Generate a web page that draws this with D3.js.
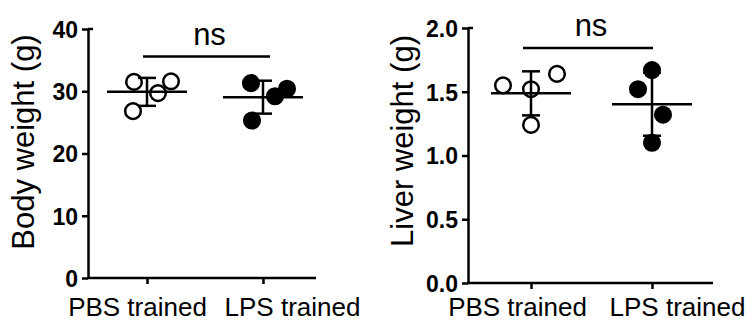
<!DOCTYPE html>
<html>
<head>
<meta charset="utf-8">
<script src="https://cdn.jsdelivr.net/npm/d3@7"></script>
<style>
  body { margin: 0; background: #fff; }
  svg { display: block; }
  text { font-family: "Liberation Sans", Arial, Helvetica, sans-serif; fill: #000; }
</style>
</head>
<body>
<div id="chart"></div>
<script>
// groups on x
var groups = ["PBS trained", "LPS trained"];

// body weight (g), one value per mouse
var bodyPBS = [31.5, 31.6, 29.7, 26.8];
var bodyLPS = [31.3, 29.2, 30.4, 25.3];
var bodyTicks = [0, 10, 20, 30, 40];

// liver weight (g)
var liverPBS = [1.55, 1.64, 1.52, 1.24];
var liverLPS = [1.67, 1.52, 1.32, 1.10];
var liverTicks = [0, 0.5, 1.0, 1.5, 2.0];

// horizontal scatter of the dots (px), same order as values
var bodyJitter = [[-13, 24, 11, -14], [-12, 12, 24, -11]];
var liverJitter = [[-28, 26, 0, 0], [0, -14, 11, 0]];

var svg = d3.select("#chart").append("svg")
  .attr("width", 756)
  .attr("height", 324);

function drawPanel(p) {
  var g = svg.append("g");

  var x = d3.scalePoint().domain(groups).range(p.xr);
  var y = d3.scaleLinear().domain([0, p.ymax]).range(p.yr);

  /* y axis */
  var yAxis = g.append("g")
    .attr("transform", "translate(" + p.ax + ",0)")
    .call(d3.axisLeft(y).tickValues(p.ticks).tickSize(6).tickSizeOuter(0)
      .tickPadding(4).tickFormat(d3.format(p.fmt)));
  yAxis.select(".domain").attr("stroke-width", 2.5);
  yAxis.selectAll(".tick line").attr("stroke-width", 2.5);
  yAxis.selectAll(".tick text")
    .attr("font-size", "23px")
    .attr("font-weight", "bold")
    .attr("dy", "0.36em");
  // small stub to the right at the top of the axis (the "T")
  g.append("line")
    .attr("x1", p.ax).attr("x2", p.ax + 5)
    .attr("y1", y(p.ymax)).attr("y2", y(p.ymax))
    .attr("stroke", "#000").attr("stroke-width", 2.5);

  /* x axis: ticks from the scale, line drawn to the panel end */
  var xAxis = g.append("g")
    .attr("transform", "translate(0," + y(0) + ")")
    .call(d3.axisBottom(x).tickSize(6).tickPadding(p.labelPad));
  xAxis.select(".domain").remove();
  xAxis.selectAll(".tick line").attr("stroke-width", 2.5);
  xAxis.selectAll(".tick text")
    .attr("font-size", "26px")
    .attr("dx", function(d, i) { return p.labelShift[i]; });
  g.append("line")
    .attr("x1", p.ax).attr("x2", p.xend)
    .attr("y1", y(0)).attr("y2", y(0))
    .attr("stroke", "#000").attr("stroke-width", 2.5);

  /* y title */
  g.append("text")
    .attr("transform", "translate(" + p.titleX + "," + p.titleY + ") rotate(-90)")
    .attr("text-anchor", "middle")
    .attr("font-size", "31px")
    .text(p.title);

  /* dots, then mean +/- SD on top */
  p.series.forEach(function(vals, k) {
    var cx = x(groups[k]);
    var filled = k == 1;
    g.append("g").selectAll("circle")
      .data(vals)
      .enter().append("circle")
      .attr("cx", function(d, i) { return cx + p.jitter[k][i]; })
      .attr("cy", function(d) { return y(d); })
      .attr("r", 7.8)
      .attr("fill", filled ? "#000" : "#fff")
      .attr("stroke", "#000")
      .attr("stroke-width", 2.5);

    var m = d3.mean(vals), sd = d3.deviation(vals);
    var bars = g.append("g").attr("stroke", "#000").attr("stroke-width", 2.5);
    bars.append("line")
      .attr("x1", cx - 40).attr("x2", cx + 40)
      .attr("y1", y(m)).attr("y2", y(m));
    bars.append("line")
      .attr("x1", cx).attr("x2", cx)
      .attr("y1", y(m + sd)).attr("y2", y(m - sd));
    [m + sd, m - sd].forEach(function(v) {
      bars.append("line")
        .attr("x1", cx - 9).attr("x2", cx + 9)
        .attr("y1", y(v)).attr("y2", y(v));
    });
  });

  /* significance bar */
  g.append("line")
    .attr("x1", x(groups[0]) + p.sigX[0]).attr("x2", x(groups[1]) + p.sigX[1])
    .attr("y1", y(p.sigY)).attr("y2", y(p.sigY))
    .attr("stroke", "#000").attr("stroke-width", 2.5);
  g.append("text")
    .attr("x", (x(groups[0]) + p.sigX[0] + x(groups[1]) + p.sigX[1]) / 2 + 3)
    .attr("y", y(p.nsY))
    .attr("text-anchor", "middle")
    .attr("font-size", "31px")
    .text("ns");
}

drawPanel({
  series: [bodyPBS, bodyLPS], jitter: bodyJitter,
  ymax: 40, ticks: bodyTicks, fmt: "d",
  xr: [147, 263], yr: [278, 29], ax: 88, xend: 316,
  labelShift: [-10, 29], labelPad: 14,
  title: "Body weight (g)", titleX: 34, titleY: 142,
  sigY: 35.6, sigX: [-4, 7], nsY: 37.4
});

drawPanel({
  series: [liverPBS, liverLPS], jitter: liverJitter,
  ymax: 2, ticks: liverTicks, fmt: ".1f",
  xr: [531, 652], yr: [283, 28], ax: 468, xend: 713,
  labelShift: [-14, 25], labelPad: 9,
  title: "Liver weight (g)", titleX: 413, titleY: 141,
  sigY: 1.843, sigX: [-8, 1], nsY: 1.937
});
</script>
</body>
</html>
